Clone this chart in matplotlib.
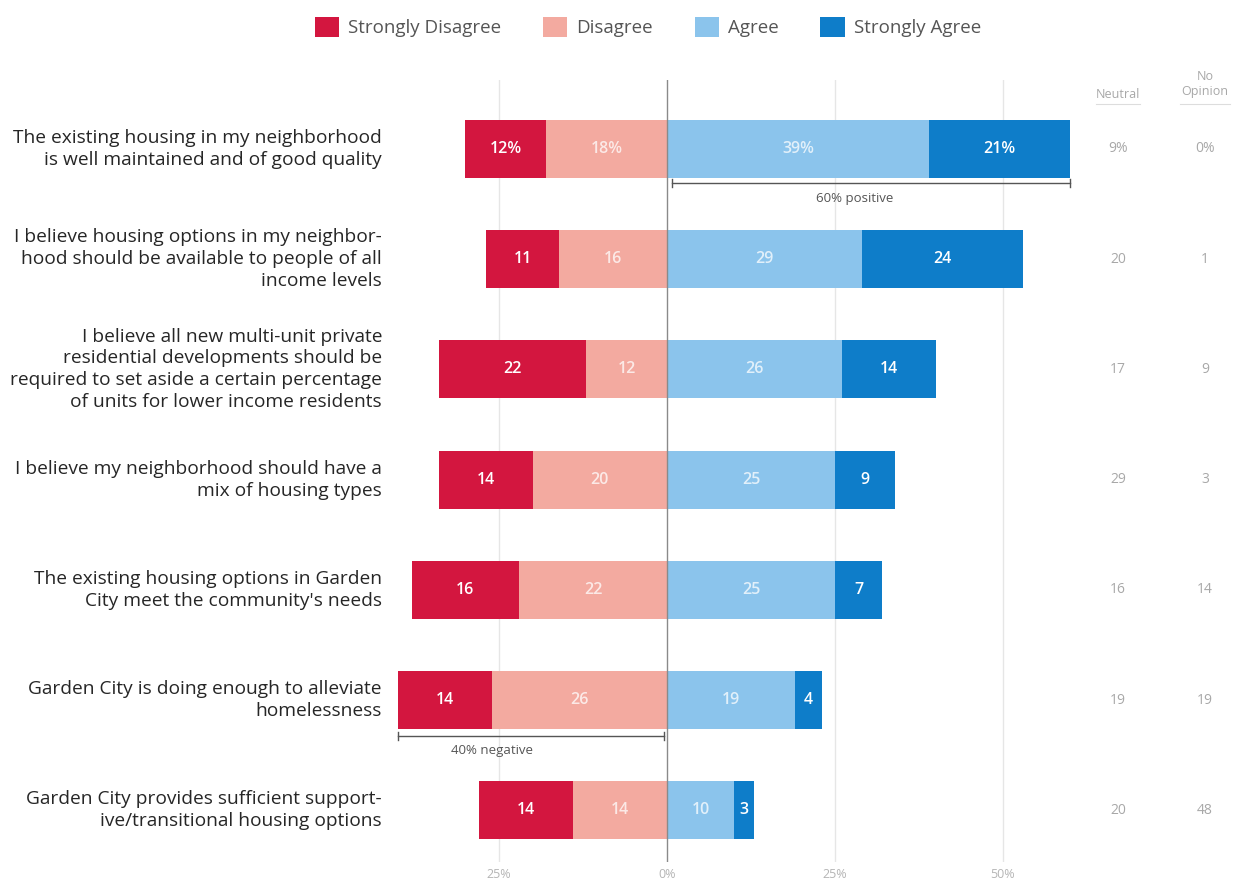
import matplotlib.pyplot as plt
from matplotlib.patches import Patch
from matplotlib.transforms import blended_transform_factory

plt.rcParams['font.family'] = ['Open Sans', 'DejaVu Sans']

# --- datos ---
statements = [
    "The existing housing in my neighborhood\nis well maintained and of good quality",
    "I believe housing options in my neighbor-\nhood should be available to people of all\nincome levels",
    "I believe all new multi-unit private\nresidential developments should be\nrequired to set aside a certain percentage\nof units for lower income residents",
    "I believe my neighborhood should have a\nmix of housing types",
    "The existing housing options in Garden\nCity meet the community's needs",
    "Garden City is doing enough to alleviate\nhomelessness",
    "Garden City provides sufficient support-\nive/transitional housing options",
]
strongly_disagree = [12, 11, 22, 14, 16, 14, 14]
disagree = [18, 16, 12, 20, 22, 26, 14]
agree = [39, 29, 26, 25, 25, 19, 10]
strongly_agree = [21, 24, 14, 9, 7, 4, 3]
neutral = [9, 20, 17, 29, 16, 19, 20]
no_opinion = [0, 1, 9, 3, 14, 19, 48]

tick_values = [-25, 0, 25, 50]
tick_labels = ["25%", "0%", "25%", "50%"]

colors = {
    "Strongly Disagree": "#D3163F",
    "Disagree": "#F3AAA0",
    "Agree": "#8BC4EC",
    "Strongly Agree": "#0E7DC9",
}

W, H = 1244, 886
fig = plt.figure(figsize=(W / 100, H / 100), dpi=100)

# eje principal ubicado en pixeles: 0% en x=667, 25% = 168 px
ax_left, ax_right = 390, 1080
ax_top, ax_bottom = 80, 862
ax = fig.add_axes([ax_left / W, 1 - ax_bottom / H,
                   (ax_right - ax_left) / W, (ax_bottom - ax_top) / H])
px_per_pct = 168 / 25
ax.set_xlim((ax_left - 667) / px_per_pct, (ax_right - 667) / px_per_pct)
row_px = 110.2
ax.set_ylim((ax_bottom - 149) / row_px, -(149 - ax_top) / row_px)

y = list(range(len(statements)))
bh = 58 / row_px

for v in tick_values:
    if v == 0:
        ax.axvline(v, color="#8a8a8a", lw=1.0, zorder=3)
    else:
        ax.axvline(v, color="#e6e6e6", lw=1.0, zorder=0)

neg_d = [-v for v in disagree]
neg_sd = [-v for v in strongly_disagree]
ax.barh(y, neg_d, left=0, height=bh, color=colors["Disagree"], zorder=2)
ax.barh(y, neg_sd, left=neg_d, height=bh, color=colors["Strongly Disagree"], zorder=2)
ax.barh(y, agree, left=0, height=bh, color=colors["Agree"], zorder=2)
ax.barh(y, strongly_agree, left=agree, height=bh, color=colors["Strongly Agree"], zorder=2)

# etiquetas dentro de las barras
for i in y:
    pct = "%" if i == 0 else ""
    segs = [
        (-disagree[i] - strongly_disagree[i] / 2, strongly_disagree[i], 1.0),
        (-disagree[i] / 2, disagree[i], 0.75),
        (agree[i] / 2, agree[i], 0.75),
        (agree[i] + strongly_agree[i] / 2, strongly_agree[i], 1.0),
    ]
    for xc, val, alpha in segs:
        ax.text(xc, i, f"{val}{pct}", ha="center", va="center", color="white",
                alpha=alpha, fontsize=11.5, fontweight="semibold", zorder=4)

ax.set_xticks(tick_values)
ax.set_xticklabels(tick_labels, color="#b5b5b5", fontsize=9)
ax.tick_params(axis="x", length=0, pad=4)
ax.set_yticks([])
for s in ax.spines.values():
    s.set_visible(False)

# textos de la izquierda y columnas neutral / no opinion
fig_y = blended_transform_factory(fig.transFigure, ax.transData)
for i, txt in enumerate(statements):
    ax.text(382 / W, i, txt, transform=fig_y, ha="right", va="center",
            fontsize=13.8, color="#262626", linespacing=1.28)
    pct = "%" if i == 0 else ""
    ax.text(1118 / W, i, f"{neutral[i]}{pct}", transform=fig_y, ha="center",
            va="center", fontsize=10, color="#a8a8a8")
    ax.text(1205 / W, i, f"{no_opinion[i]}{pct}", transform=fig_y, ha="center",
            va="center", fontsize=10, color="#a8a8a8")

fig.text(1118 / W, 1 - 95 / H, "Neutral", ha="center", va="center",
         fontsize=9, color="#a8a8a8")
fig.text(1205 / W, 1 - 84 / H, "No\nOpinion", ha="center", va="center",
         fontsize=9, color="#a8a8a8", linespacing=1.3)
for xc, half in [(1118, 22), (1205, 25)]:
    fig.add_artist(plt.Line2D([(xc - half) / W, (xc + half) / W],
                              [1 - 104 / H, 1 - 104 / H], color="#dddddd", lw=0.8))

# llaves 60% positive / 40% negative
pos_total = agree[0] + strongly_agree[0]
yb = 0 + 34 / row_px
ax.plot([0.7, pos_total], [yb, yb], color="#555555", lw=1.0, zorder=3)
for xe in (0.7, pos_total):
    ax.plot([xe, xe], [yb - 0.04, yb + 0.04], color="#555555", lw=1.0, zorder=3)
ax.text(28, yb + 0.14, f"{pos_total}% positive", ha="center", va="center",
        fontsize=9.5, color="#555555")

neg_total = disagree[5] + strongly_disagree[5]
yb = 5 + 36 / row_px
ax.plot([-neg_total, -0.4], [yb, yb], color="#555555", lw=1.0, zorder=3)
for xe in (-neg_total, -0.4):
    ax.plot([xe, xe], [yb - 0.04, yb + 0.04], color="#555555", lw=1.0, zorder=3)
ax.text(-26, yb + 0.13, f"{neg_total}% negative", ha="center", va="center",
        fontsize=9.5, color="#555555")

# leyenda
handles = [Patch(facecolor=c, edgecolor="none") for c in colors.values()]
fig.legend(handles, list(colors.keys()), loc="center", ncol=4, frameon=False,
           bbox_to_anchor=(648 / W, 1 - 27 / H), fontsize=13.5,
           handlelength=1.3, handleheight=1.3, handletextpad=0.5,
           columnspacing=2.2, labelcolor="#555555")

fig.savefig("out.png", dpi=100)
